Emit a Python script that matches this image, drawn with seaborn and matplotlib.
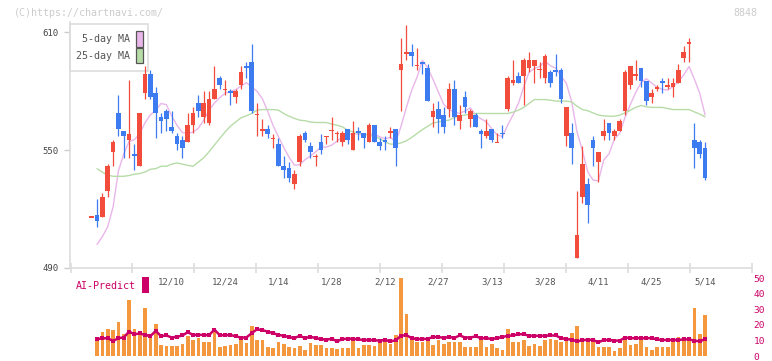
import numpy as np
import pandas as pd
import matplotlib
matplotlib.use("Agg")
import matplotlib.pyplot as plt
from matplotlib.patches import Rectangle
import seaborn as sns

# daily candles (index 0 = first candle on screen, last = 5/14)
opens = [516, 517, 516, 529, 549, 569, 560, 555, 548, 542,
         579, 589, 579, 567, 570, 562, 557, 555, 554, 563,
         574, 567, 564, 576, 587, 581, 580, 577, 583, 593,
         595, 568, 560, 561, 556, 553, 542, 541, 533, 544,
         559, 552, 547, 554, 557, 560, 558, 554, 561, 550,
         560, 559, 554, 563, 554, 555, 559, 561, 591, 599,
         600, 593, 595, 592, 567, 571, 568, 571, 581, 565,
         577, 566, 568, 560, 557, 561, 554, 559, 571, 584,
         588, 588, 592, 593, 591, 587, 590, 591, 591, 557,
         559, 495, 526, 533, 555, 544, 557, 564, 557, 560,
         570, 583, 588, 592, 585, 577, 581, 585, 582, 582,
         584, 597, 604, 555, 554, 551]
highs = [516, 525, 528, 543, 555, 578, 560, 586, 553, 569,
         593, 591, 582, 569, 571, 570, 559, 557, 569, 572,
         578, 580, 580, 593, 588, 586, 581, 581, 593, 595,
         604, 574, 566, 563, 558, 556, 547, 544, 540, 558,
         560, 554, 548, 558, 557, 567, 560, 560, 561, 565,
         562, 559, 564, 563, 556, 557, 562, 561, 607, 614,
         604, 602, 595, 594, 574, 575, 572, 584, 586, 573,
         580, 571, 569, 561, 566, 561, 559, 563, 588, 596,
         590, 597, 600, 596, 595, 599, 591, 599, 592, 572,
         564, 529, 552, 536, 557, 549, 566, 564, 561, 566,
         591, 593, 596, 592, 585, 581, 583, 587, 587, 587,
         594, 603, 607, 564, 555, 554]
lows = [516, 511, 516, 526, 542, 557, 546, 546, 540, 542,
        576, 576, 556, 559, 560, 559, 550, 546, 554, 559,
        567, 564, 563, 576, 581, 578, 573, 574, 581, 587,
        569, 557, 557, 556, 551, 542, 536, 534, 530, 542,
        554, 546, 542, 548, 553, 555, 554, 552, 553, 550,
        555, 551, 554, 554, 550, 550, 556, 542, 570, 596,
        593, 591, 589, 575, 562, 559, 559, 567, 563, 561,
        569, 562, 562, 551, 556, 554, 554, 556, 570, 583,
        584, 573, 590, 584, 587, 584, 582, 588, 574, 552,
        543, 495, 523, 513, 542, 534, 555, 555, 555, 560,
        568, 581, 586, 582, 573, 574, 580, 579, 581, 577,
        584, 595, 595, 541, 546, 535]
closes = [516, 514, 526, 542, 554, 561, 557, 558, 547, 569,
          589, 577, 569, 565, 566, 560, 553, 551, 563, 569,
          570, 574, 576, 581, 583, 581, 579, 580, 590, 592,
          570, 568, 561, 558, 556, 542, 540, 536, 538, 557,
          555, 549, 547, 550, 557, 560, 559, 559, 555, 559,
          559, 556, 563, 554, 552, 554, 560, 551, 594, 600,
          598, 593, 594, 575, 570, 566, 562, 581, 567, 568,
          572, 570, 562, 558, 560, 555, 554, 558, 587, 586,
          584, 596, 596, 596, 591, 598, 584, 590, 576, 572,
          551, 507, 543, 522, 551, 549, 560, 559, 560, 565,
          590, 593, 589, 585, 575, 579, 582, 584, 583, 584,
          591, 600, 605, 551, 548, 536]

# first 5-day MA points (history before the screen is not known), candles 1-4
ma5_head = [502, 506, 511, 521]
# 25-day MA as drawn, candles 1..115
ma25_vals = [540.6, 538.8, 537.3, 536.7, 536.7, 536.7, 537.1, 537.8, 538.1, 538.9,
             540.3, 540.6, 541.8, 541.8, 542.9, 543.5, 542.9, 542.3, 541.8, 544.0,
             546.1, 549.2, 552.6, 556.0, 559.3, 562.2, 564.4, 566.5, 567.5, 568.7,
             570.4, 570.7, 570.7, 570.7, 570.4, 568.7, 567.3, 566.2, 565.3, 565.0,
             564.4, 564.1, 564.1, 564.1, 563.3, 562.7, 561.9, 560.2, 559.3, 558.8,
             558.2, 557.6, 557.1, 555.9, 554.2, 553.1, 553.1, 553.7, 554.8, 556.5,
             558.5, 560.5, 562.2, 563.9, 564.4, 565.0, 565.3, 566.7, 567.5, 567.9,
             568.4, 568.7, 568.7, 568.7, 568.7, 568.7, 568.7, 568.7, 569.4, 570.4,
             571.8, 573.8, 575.8, 575.8, 575.8, 575.5, 575.0, 575.0, 575.0, 574.6,
             572.4, 570.7, 570.1, 569.0, 567.9, 567.5, 567.3, 567.3, 567.9, 569.0,
             570.4, 571.8, 572.8, 572.1, 571.8, 571.8, 571.8, 571.2, 570.7, 570.7,
             570.7, 570.7, 569.5, 568.4, 567.0]

# lower panel, candles 1..115
volume = [10.5, 15.3, 17.2, 16.8, 21.6, 14.0, 36.1, 17.2, 15.3, 31.0,
          14.0, 20.8, 6.9, 6.3, 6.3, 6.3, 7.8, 12.8, 10.3, 11.5,
          9.0, 9.0, 17.8, 5.9, 6.5, 7.1, 7.8, 11.5, 8.4, 19.1,
          10.3, 10.3, 5.9, 5.2, 9.0, 7.8, 5.9, 5.2, 6.5, 4.0,
          8.4, 7.1, 7.1, 5.2, 5.2, 4.6, 5.2, 5.2, 9.6, 5.2,
          7.1, 7.1, 6.5, 8.4, 9.0, 7.8, 13.4, 49.9, 27.3, 10.0,
          9.0, 9.0, 10.0, 7.0, 10.0, 8.0, 9.0, 9.0, 9.0, 6.0,
          6.0, 6.0, 10.0, 5.5, 8.0, 5.0, 4.0, 17.5, 9.0, 9.0,
          10.0, 6.5, 8.0, 6.5, 10.0, 11.0, 10.5, 9.0, 10.5, 15.0,
          19.0, 11.0, 11.0, 10.0, 6.0, 6.0, 6.0, 3.5, 5.0, 12.0,
          7.0, 8.0, 10.0, 5.5, 4.0, 6.0, 5.5, 5.5, 11.0, 12.0,
          11.0, 12.0, 31.0, 14.0, 26.5]
ai_predict = [10.9, 11.3, 11.5, 9.6, 11.5, 11.9, 15.7, 14.0, 14.5, 13.6,
              12.8, 16.1, 12.8, 13.2, 11.9, 12.4, 13.2, 15.3, 13.6, 13.6,
              13.6, 13.4, 17.0, 13.4, 13.4, 13.6, 12.6, 11.9, 11.9, 14.7,
              17.2, 16.6, 15.7, 14.7, 13.6, 13.0, 12.2, 11.5, 13.0, 11.5,
              12.4, 11.5, 10.9, 10.5, 11.1, 9.4, 10.9, 11.1, 11.1, 10.7,
              10.3, 10.3, 10.1, 9.9, 10.3, 9.4, 10.1, 13.0, 13.4, 11.5,
              10.9, 10.9, 11.1, 12.2, 12.2, 11.7, 12.2, 11.7, 13.2, 11.9,
              11.9, 12.6, 11.5, 11.5, 10.9, 11.5, 12.2, 13.0, 13.2, 14.0,
              14.0, 13.0, 13.0, 13.0, 13.0, 13.2, 13.2, 11.5, 10.9, 10.5,
              9.4, 10.1, 10.5, 10.3, 8.8, 10.3, 10.3, 9.9, 9.9, 11.9,
              11.5, 11.5, 11.5, 11.5, 11.5, 10.7, 10.3, 10.3, 10.3, 10.3,
              10.7, 10.7, 9.9, 9.4, 10.9]

date_labels = ['12/10', '12/24', '1/14', '1/28', '2/12', '2/27',
               '3/13', '3/28', '4/11', '4/25', '5/14']
date_pos = [15, 25, 35, 45, 55, 65, 75, 85, 95, 105, 115]

RED = '#f24c3d'
BLUE = '#3d7cf0'
PINK = '#e9b6ea'
GREEN = '#b7dca8'
ORANGE = '#f3983f'
MAGENTA = '#cc0066'

df = pd.DataFrame({'open': opens, 'high': highs, 'low': lows, 'close': closes})
df['idx'] = np.arange(len(df))
df['ma5'] = df['close'].rolling(5).mean()
df.loc[1:len(ma5_head), 'ma5'] = ma5_head
df['ma25'] = [np.nan] + ma25_vals
sub = pd.DataFrame({'idx': np.arange(1, len(df)), 'vol': volume, 'ai': ai_predict})

sns.set_style('white')
plt.rcParams['font.family'] = ['DejaVu Sans Mono']

W, H = 772, 361
fig = plt.figure(figsize=(W / 100, H / 100), dpi=100)


def box(l, t, r, b):
    return [l / W, 1 - b / H, (r - l) / W, (b - t) / H]


def fx(x):
    return x / W


def fy(y):
    return 1 - y / H


ax = fig.add_axes(box(70, 22, 752, 268))
axv = fig.add_axes(box(70, 278.3, 752, 356.0))
axv.set_facecolor('none')
XL, XR = -4.07, 123.8

# candles
up = df['close'] >= df['open']
cols = np.where(up, RED, BLUE)
ax.vlines(df['idx'], df['low'], df['high'], colors=cols, lw=0.9, zorder=3)
body = np.maximum((df['close'] - df['open']).abs(), 0.6)
mid = (df['close'] + df['open']) / 2
ax.bar(df['idx'], body, bottom=mid - body / 2, width=0.88, color=cols,
       linewidth=0, zorder=4)

sns.lineplot(data=df, x='idx', y='ma5', ax=ax, color=PINK, lw=1, zorder=2)
sns.lineplot(data=df, x='idx', y='ma25', ax=ax, color=GREEN, lw=1, zorder=2)

ax.set_xlim(XL, XR)
ax.set_ylim(490, 615.3)
ax.set_xlabel('')
ax.set_ylabel('')
for s in ['top', 'right']:
    ax.spines[s].set_visible(False)
for s in ['left', 'bottom']:
    ax.spines[s].set_color('#dddddd')
    ax.spines[s].set_linewidth(1.2)
ax.set_yticks([490, 550, 610])
ax.tick_params(axis='y', length=4, width=1, color='#cccccc', labelsize=6.5,
               labelcolor='#444444', pad=4, left=True)
ax.set_xticks(np.linspace(XL + 0.1, XR - 0.05, 12))
ax.set_xticklabels([])
ax.tick_params(axis='x', which='major', direction='inout', length=7, width=1.2,
               color='#dddddd', bottom=True)
ax.set_xticks(date_pos, minor=True)
ax.set_xticklabels(date_labels, minor=True)
ax.tick_params(axis='x', which='minor', length=0, pad=7, labelsize=6.5,
               labelcolor='#555555', labelbottom=True)

# legend box
ax.add_patch(Rectangle((fx(70), fy(71)), fx(148) - fx(70), fy(24) - fy(71),
                       transform=fig.transFigure, facecolor='white',
                       edgecolor='#dddddd', lw=1.2, clip_on=False, zorder=1))
for ytop, ybot, c, lbl in [(31, 46.7, PINK, '5-day MA'), (48.3, 63.3, GREEN, '25-day MA')]:
    ax.add_patch(Rectangle((fx(136), fy(ybot)), fx(142.7) - fx(136), fy(ytop) - fy(ybot),
                           transform=fig.transFigure, facecolor=c,
                           edgecolor='#555555', lw=0.9, clip_on=False, zorder=1.5))
    fig.text(fx(129.5), fy((ytop + ybot) / 2), lbl, ha='right', va='center',
             fontsize=7.2, color='#555555')

# lower panel
axv.bar(sub['idx'], sub['vol'], width=0.7, color=ORANGE, linewidth=0)
sns.lineplot(data=sub, x='idx', y='ai', ax=axv, color=MAGENTA, lw=1.8,
             marker='s', markersize=2.6, markeredgewidth=0)
axv.set_xlim(XL, XR)
axv.set_ylim(0, 50)
axv.set_xlabel('')
axv.set_ylabel('')
for s in axv.spines.values():
    s.set_visible(False)
axv.set_xticks([])
axv.set_yticks(range(0, 51, 10))
axv.yaxis.tick_right()
axv.tick_params(axis='y', length=0, pad=1, labelsize=6.8, labelcolor=MAGENTA)

fig.text(fx(76), fy(286), 'AI-Predict', ha='left', va='center', fontsize=7.2,
         color=MAGENTA)
fig.add_artist(Rectangle((fx(142.3), fy(292.7)), fx(148.7) - fx(142.3),
                         fy(277.3) - fy(292.7), facecolor=MAGENTA, lw=0))

fig.text(fx(14), fy(12.5), '(C)https://chartnavi.com/', ha='left', va='center',
         fontsize=7.2, color='#cccccc')
fig.text(fx(757), fy(12.5), '8848', ha='right', va='center', fontsize=7.2,
         color='#cccccc')

fig.savefig('out.png', dpi=100)
